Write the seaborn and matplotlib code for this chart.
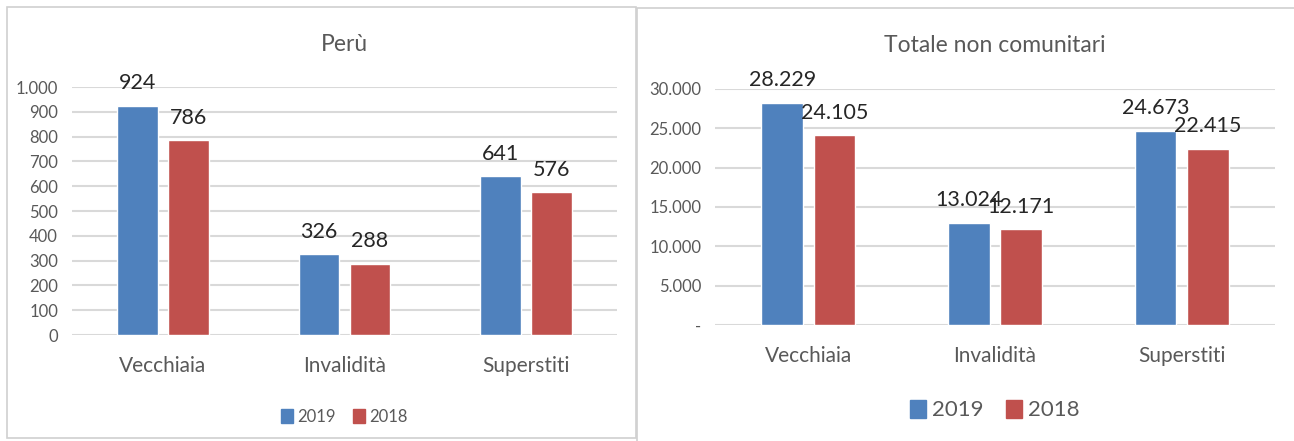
import pandas as pd
import seaborn as sns
import matplotlib.pyplot as plt
from matplotlib.patches import Rectangle

categorie = ['Vecchiaia', 'Invalidità', 'Superstiti']
anni = ['2019', '2018']
peru_2019 = [924, 326, 641]
peru_2018 = [786, 288, 576]
totale_2019 = [28229, 13024, 24673]
totale_2018 = [24105, 12171, 22415]

colori = {'2019': '#4F81BD', '2018': '#C0504D'}
grigio_testo = '#595959'
grigio_griglia = '#D9D9D9'

sns.set_style('white')
plt.rcParams['font.family'] = ['Lato', 'DejaVu Sans']


def fmt(v):
    # separatore delle migliaia all'italiana
    if v == 0:
        return '-'
    return f'{int(v):,}'.replace(',', '.')


def make_df(v2019, v2018):
    return pd.DataFrame({
        'categoria': categorie * 2,
        'anno': ['2019'] * 3 + ['2018'] * 3,
        'valore': v2019 + v2018,
    })


fig = plt.figure(figsize=(12.94, 4.41), dpi=100)

# cornici dei due grafici
fig.patches.append(Rectangle((7 / 1294, 3 / 441), 629 / 1294, 431 / 441,
                             transform=fig.transFigure, fill=False,
                             edgecolor='#D0D0D0', lw=1.2))
fig.patches.append(Rectangle((637 / 1294, -0.01), 0.6, 1 - 8 / 441 + 0.01,
                             transform=fig.transFigure, fill=False,
                             edgecolor='#D0D0D0', lw=1.2))


def draw(ax, df, title, ymax, step, zero_label, leg_fs, leg_y, title_y):
    sns.barplot(data=df, x='categoria', y='valore', hue='anno', hue_order=anni,
                palette=colori, width=0.56, gap=0.2, saturation=1, ax=ax,
                legend=False)
    ax.set_ylim(0, ymax)
    ax.set_xlim(-0.5, 2.5)
    ticks = list(range(0, ymax + 1, step))
    ax.set_yticks(ticks)
    ax.set_yticklabels([fmt(t) if t else zero_label for t in ticks],
                       color=grigio_testo, fontsize=12)
    ax.set_xticks(range(3))
    ax.set_xticklabels(categorie, color=grigio_testo, fontsize=15)
    ax.tick_params(axis='y', length=0, pad=10)
    ax.tick_params(axis='x', length=0, pad=15)
    ax.yaxis.grid(True, color=grigio_griglia, lw=1.5)
    ax.set_axisbelow(True)
    for s in ax.spines.values():
        s.set_visible(False)
    ax.set_xlabel('')
    ax.set_ylabel('')
    for cont in ax.containers:
        ax.bar_label(cont, labels=[fmt(v) for v in cont.datavalues],
                     padding=9, fontsize=15.5, color='#262626')
    ax.text(0.5, title_y, title, transform=ax.transAxes, ha='center',
            va='center', fontsize=16.5, color=grigio_testo)
    handles = [Rectangle((0, 0), 1, 1, color=colori[a]) for a in anni]
    ax.legend(handles, anni, loc='center', bbox_to_anchor=(0.5, leg_y),
              ncol=2, frameon=False, fontsize=leg_fs, handlelength=0.7,
              handleheight=0.9, handletextpad=0.3, columnspacing=1.0,
              labelcolor=grigio_testo)


ax1 = fig.add_axes([72 / 1294, 1 - 335 / 441, 545 / 1294, 248 / 441])
draw(ax1, make_df(peru_2019, peru_2018), 'Perù', 1000, 100, '0',
     12, -0.33, 1.17)

ax2 = fig.add_axes([715 / 1294, 1 - 325 / 441, 560 / 1294, 236 / 441])
draw(ax2, make_df(totale_2019, totale_2018), 'Totale non comunitari', 30000,
     5000, '-', 16, -0.36, 1.186)

fig.savefig('out.png', dpi=100)
